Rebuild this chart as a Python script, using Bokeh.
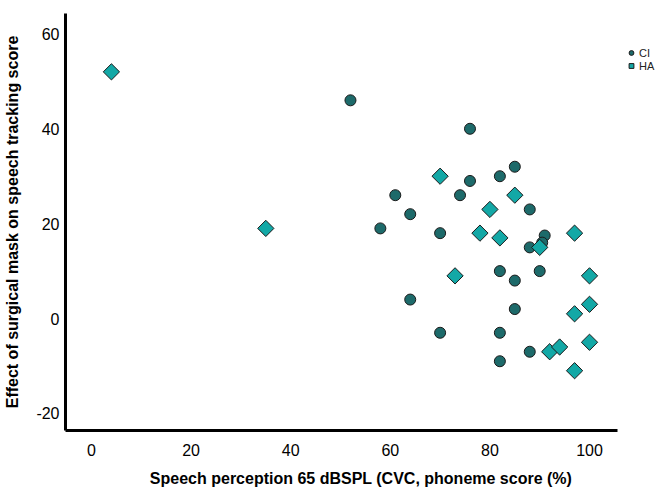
from bokeh.plotting import figure
from bokeh.models import FixedTicker, Range1d, Legend, LegendItem
from bokeh.embed import file_html
from bokeh.resources import INLINE
import numpy as np

# Data
ci_x = [52, 76, 85, 82, 76, 61, 74, 64, 88, 58, 70, 88, 91, 90.5, 82, 85, 90, 64, 85, 70, 82, 88, 82]
ci_y = [46, 40, 32, 30, 29, 26, 26, 22, 23, 19, 18, 15, 17.5, 16, 10, 8, 10, 4, 2, -3, -3, -7, -9]

ha_x = [4, 35, 70, 85, 80, 78, 82, 97, 90, 73, 100, 100, 97, 100, 92, 94, 97]
ha_y = [52, 19, 30, 26, 23, 18, 17, 18, 15, 9, 9, 3, 1, -5, -7, -6, -11]

x_ticks = [0, 20, 40, 60, 80, 100]
y_ticks = [-20, 0, 20, 40, 60]
y_tick_labels = {-20: "-20", 0: "0", 20: "20", 40: "40", 60: "60"}

FONT = "Liberation Sans"

# frame runs to the right edge so the legend (outside the axis extent) stays visible;
# the x axis line itself is limited with bounds
p = figure(width=656, height=489, output_backend="svg", toolbar_location=None,
           x_range=Range1d(-5.22, 113.45), y_range=Range1d(-23.6, 64.3),
           min_border_left=65, min_border_right=0, min_border_top=13, min_border_bottom=59)
p.outline_line_color = None
p.xgrid.visible = False
p.ygrid.visible = False

for ax in (p.xaxis[0], p.yaxis[0]):
    ax.axis_line_width = 3
    ax.axis_line_color = "black"
    ax.major_tick_line_color = None
    ax.minor_tick_line_color = None
    ax.major_tick_out = 0
    ax.major_tick_in = 0
    ax.minor_tick_out = 0
    ax.minor_tick_in = 0
    ax.major_label_text_font = FONT
    ax.major_label_text_font_size = "16px"
    ax.major_label_text_color = "black"
    ax.axis_label_text_font = FONT
    ax.axis_label_text_font_style = "bold"
    ax.axis_label_text_font_size = "16px"
    ax.axis_label_text_color = "black"

p.xaxis.bounds = (-5.22, 105.6)
p.xaxis.ticker = FixedTicker(ticks=x_ticks)
p.yaxis.ticker = FixedTicker(ticks=y_ticks)
p.yaxis.major_label_overrides = y_tick_labels
p.xaxis.axis_label = "Speech perception 65 dBSPL (CVC, phoneme score (%)"
p.yaxis.axis_label = "Effect of surgical mask on speech tracking score"
p.xaxis.major_label_standoff = 13
p.yaxis.major_label_standoff = 6
p.xaxis.axis_label_standoff = 11
p.yaxis.axis_label_standoff = 12

r_ci = p.scatter(ci_x, ci_y, marker="circle", size=11, fill_color="#1d6a6a",
                 line_color="#1a1a1a", line_width=1)
r_ha = p.scatter(ha_x, ha_y, marker="square", angle=np.pi / 4, size=11.5,
                 fill_color="#13a8a6", line_color="#1a1a1a", line_width=1)

legend = Legend(items=[LegendItem(label="CI", renderers=[r_ci]),
                       LegendItem(label="HA", renderers=[r_ha])],
                location=(560, 358), padding=0, spacing=0, margin=0,
                glyph_width=12, glyph_height=13, label_standoff=2,
                label_text_font=FONT, label_text_font_size="11px",
                label_text_color="#222222",
                label_height=13, border_line_color=None, background_fill_alpha=0)
p.add_layout(legend)

open("out.html", "w").write(file_html(p, INLINE))
